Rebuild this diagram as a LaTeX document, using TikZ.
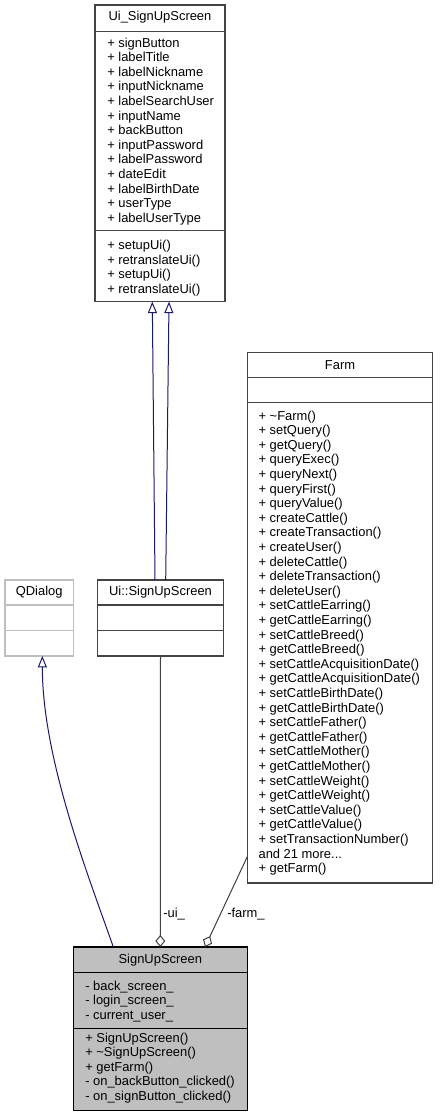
\documentclass[tikz,border=0pt]{standalone}
\usepackage{fontspec}
\setmainfont{Liberation Sans}
\usetikzlibrary{arrows.meta,calc}
\definecolor{boxc}{HTML}{444444}
\definecolor{navy}{HTML}{191970}
\definecolor{aggc}{HTML}{404040}
\definecolor{grey75}{HTML}{BFBFBF}
\newcommand\moretxt{and 21 more...}
\begin{document}
\begin{tikzpicture}[x=0.75pt,y=-0.75pt,
  box/.style={draw=boxc, line width=1pt, inner sep=0pt, outer sep=0pt, anchor=north west},
  txt/.style={anchor=base west, inner sep=0pt, font=\fontsize{9.7}{11}\selectfont},
  ttl/.style={anchor=base, inner sep=0pt, font=\fontsize{9.7}{11}\selectfont},
  divider/.style={draw=boxc, line width=1pt},
  inh/.style={draw=navy, line width=0.75pt, -{Triangle[open,length=8.6pt,width=6.8pt]}},
  agg/.style={draw=aggc, line width=0.75pt, -{Diamond[open,length=9pt,width=7.5pt]}}]
\fill[white] (0,0) rectangle (439,1117);
\useasboundingbox (0,0) rectangle (439,1117);

% Ui_SignUpScreen
\node[box, minimum width=97.5pt, minimum height=222.5pt] (uiA) at (95,5) {};
\draw[divider] (uiA.west |- 0,31.7) -- (uiA.east |- 0,31.7);
\draw[divider] (uiA.west |- 0,230.7) -- (uiA.east |- 0,230.7);
\node[ttl] (uiAt) at (160,20.7) {Ui\_SignUpScreen};
\foreach \t [count=\i from 0] in {signButton,labelTitle,labelNickname,inputNickname,labelSearchUser,inputName,backButton,inputPassword,labelPassword,dateEdit,labelBirthDate,userType,labelUserType}
  \node[txt] (uiAa\i) at ({107},{47+14.6*\i}) {+ \t};
\foreach \t [count=\i from 0] in {setupUi(),retranslateUi(),setupUi(),retranslateUi()}
  \node[txt] (uiAm\i) at ({107},{249.7+14.55*\i}) {+ \t};

% Farm
\node[box, minimum width=139.05pt, minimum height=397.7pt] (farm) at (247.3,352.7) {};
\draw[divider] (farm.west |- 0,377.7) -- (farm.east |- 0,377.7);
\draw[divider] (farm.west |- 0,402.3) -- (farm.east |- 0,402.3);
\node[ttl] (farmt) at (340,369) {Farm};
\foreach \t [count=\i from 0] in {+ \textasciitilde Farm(),+ setQuery(),+ getQuery(),+ queryExec(),+ queryNext(),+ queryFirst(),+ queryValue(),+ createCattle(),+ createTransaction(),+ createUser(),+ deleteCattle(),+ deleteTransaction(),+ deleteUser(),+ setCattleEarring(),+ getCattleEarring(),+ setCattleBreed(),+ getCattleBreed(),+ setCattleAcquisitionDate(),+ getCattleAcquisitionDate(),+ setCattleBirthDate(),+ getCattleBirthDate(),+ setCattleFather(),+ getCattleFather(),+ setCattleMother(),+ getCattleMother(),+ setCattleWeight(),+ getCattleWeight(),+ setCattleValue(),+ getCattleValue(),+ setTransactionNumber(),\moretxt,+ getFarm()}
  \node[txt] (farmm\i) at ({258.3},{420+14.6*\i}) {\t};

% QDialog
\node[box, draw=grey75, minimum width=51.2pt, minimum height=57pt] (qd) at (5,580) {};
\draw[divider, draw=grey75] (qd.west |- 0,605) -- (qd.east |- 0,605);
\draw[divider, draw=grey75] (qd.west |- 0,630.7) -- (qd.east |- 0,630.7);
\node[ttl] (qdt) at (39.2,595.7) {QDialog};

% Ui::SignUpScreen
\node[box, minimum width=94.2pt, minimum height=57pt] (uiB) at (97.7,580) {};
\draw[divider] (uiB.west |- 0,605) -- (uiB.east |- 0,605);
\draw[divider] (uiB.west |- 0,630.7) -- (uiB.east |- 0,630.7);
\node[ttl] (uiBt) at (160.5,595.7) {Ui::SignUpScreen};

% SignUpScreen
\node[box, draw=black, fill=grey75, minimum width=130.5pt, minimum height=122.8pt] (sus) at (73.3,947) {};
\draw[divider, draw=black] (sus.west |- 0,972.7) -- (sus.east |- 0,972.7);
\draw[divider, draw=black] (sus.west |- 0,1028.3) -- (sus.east |- 0,1028.3);
\node[ttl] (sust) at (160.3,963) {SignUpScreen};
\foreach \t [count=\i from 0] in {back\_screen\_,login\_screen\_,current\_user\_}
  \node[txt] (susa\i) at ({85},{990+14.6*\i}) {- \t};
\foreach \t [count=\i from 0] in {+ SignUpScreen(),+ \textasciitilde SignUpScreen(),+ getFarm(),- on\_backButton\_clicked(),- on\_signButton\_clicked()}
  \node[txt] (susm\i) at ({85},{1042+14.6*\i}) {\t};

% connectors
\draw[inh] ($(uiB.north)+(-5.5,0)$) -- ($(uiA.south)+(-7.7,0)$);
\draw[inh] ($(uiB.north)+(5.2,0)$) -- ($(uiA.south)+(9,0)$);
\draw[inh] ($(sus.north west)+(40,0)$) .. controls ($(sus.north west)+(16.7,-67)$) and ($(qd.south)+(3.2,104)$) .. ($(qd.south)+(3.2,0)$);
\draw[agg] (uiB.south) -- (sus.north);
\draw[agg] ($(farm.south west)+(0,-26.3)$) -- ($(sus.north west)+(131.7,0)$);
\node[txt] (lui) at (163,917) {-ui\_};
\node[txt] (lfarm) at (227,917) {-farm\_};
\end{tikzpicture}
\end{document}
